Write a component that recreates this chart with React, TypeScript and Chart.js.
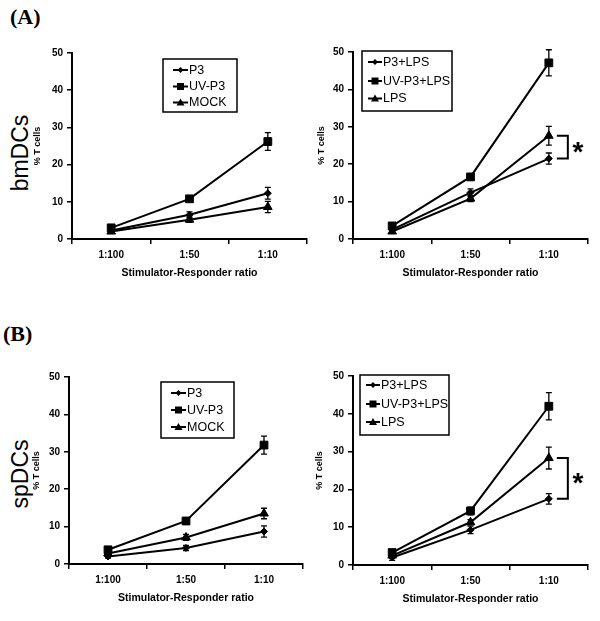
import React, { useEffect, useRef } from 'react';
import { Chart, registerables } from 'chart.js';
Chart.register(...registerables);

// ---------- data ----------
const categories = ['1:100', '1:50', '1:10'];
const yMin = 0;
const yMax = 50;
const yStep = 10;
const yTitle = '% T cells';
const xTitle = 'Stimulator-Responder ratio';

const plainNames = ['P3', 'UV-P3', 'MOCK'];
const lpsNames = ['P3+LPS', 'UV-P3+LPS', 'LPS'];
const markerStyles = ['rectRot', 'rect', 'triangle'];

// (A) bmDCs, unstimulated
const bmP3 = [2.3, 6.5, 12.3];
const bmP3Err = [0.5, 0.8, 1.6];
const bmUV = [3.0, 10.8, 26.2];
const bmUVErr = [0.5, 0.7, 2.4];
const bmMock = [2.0, 5.2, 8.6];
const bmMockErr = [0.4, 0.7, 1.5];

// (A) bmDCs, +LPS
const bmP3Lps = [2.5, 12.4, 21.5];
const bmP3LpsErr = [1.0, 1.0, 1.5];
const bmUVLps = [3.5, 16.6, 47.1];
const bmUVLpsErr = [0.5, 0.8, 3.5];
const bmLps = [2.0, 10.8, 27.6];
const bmLpsErr = [0.5, 0.8, 2.5];

// (B) spDCs, unstimulated
const spP3 = [2.0, 4.3, 8.7];
const spP3Err = [0.4, 0.7, 1.5];
const spUV = [3.8, 11.5, 31.8];
const spUVErr = [0.5, 0.7, 2.4];
const spMock = [2.8, 7.1, 13.5];
const spMockErr = [0.4, 0.8, 1.4];

// (B) spDCs, +LPS
const spP3Lps = [2.0, 9.3, 17.5];
const spP3LpsErr = [0.8, 1.0, 1.4];
const spUVLps = [3.3, 14.3, 42.0];
const spUVLpsErr = [0.5, 1.0, 3.6];
const spLps = [2.5, 11.3, 28.3];
const spLpsErr = [0.5, 0.7, 2.9];

// ---------- layout ----------
const FONT = '"Liberation Sans", Arial, Helvetica, sans-serif';
const Y_BOX = 50;
const X_BOX = 45;
const PAD_T = 10;
const PAD_R = 12;

type Panel = {
  names: string[];
  values: number[][];
  errors: number[][];
  area: { l: number; t: number; r: number; b: number };
  titleX: number;
  legend: { dx: number; dy: number; w: number; h: number; rows: number[]; l1: number; l2: number; tx: number };
  bracket: null | { a: number; b: number; cat: number };
};

const panels: Panel[] = [
  {
    names: plainNames,
    values: [bmP3, bmUV, bmMock],
    errors: [bmP3Err, bmUVErr, bmMockErr],
    area: { l: 72, t: 53, r: 307, b: 239 },
    titleX: 38,
    legend: { dx: 91, dy: 6, w: 74, h: 53, rows: [11, 27.5, 43.5], l1: 10, l2: 25, tx: 26 },
    bracket: null,
  },
  {
    names: lpsNames,
    values: [bmP3Lps, bmUVLps, bmLps],
    errors: [bmP3LpsErr, bmUVLpsErr, bmLpsErr],
    area: { l: 353, t: 52, r: 588, b: 239 },
    titleX: 322,
    legend: { dx: 9, dy: -1, w: 90, h: 60, rows: [11, 30, 47.5], l1: 6, l2: 20, tx: 21 },
    bracket: { a: 2, b: 0, cat: 2 },
  },
  {
    names: plainNames,
    values: [spP3, spUV, spMock],
    errors: [spP3Err, spUVErr, spMockErr],
    area: { l: 69, t: 377, r: 303, b: 564 },
    titleX: 37,
    legend: { dx: 92, dy: 5, w: 73, h: 56, rows: [11, 28, 45], l1: 10, l2: 25, tx: 26 },
    bracket: null,
  },
  {
    names: lpsNames,
    values: [spP3Lps, spUVLps, spLps],
    errors: [spP3LpsErr, spUVLpsErr, spLpsErr],
    area: { l: 353, t: 376, r: 588, b: 565 },
    titleX: 320,
    legend: { dx: 7, dy: -1, w: 89, h: 60, rows: [10, 29, 47], l1: 6, l2: 20, tx: 21 },
    bracket: { a: 2, b: 0, cat: 2 },
  },
];

function drawMarker(ctx: CanvasRenderingContext2D, style: string, x: number, y: number) {
  ctx.beginPath();
  if (style === 'rect') {
    ctx.rect(x - 3.5, y - 3.5, 7, 7);
  } else if (style === 'rectRot') {
    ctx.moveTo(x, y - 3);
    ctx.lineTo(x + 3, y);
    ctx.lineTo(x, y + 3);
    ctx.lineTo(x - 3, y);
    ctx.closePath();
  } else {
    ctx.moveTo(x, y - 4);
    ctx.lineTo(x + 4, y + 3);
    ctx.lineTo(x - 4, y + 3);
    ctx.closePath();
  }
  ctx.fill();
}

function PanelChart({ p }: { p: Panel }) {
  const ref = useRef<HTMLCanvasElement>(null);
  const left = p.area.l - Y_BOX;
  const top = p.area.t - PAD_T;
  const width = p.area.r - p.area.l + Y_BOX + PAD_R;
  const height = p.area.b - p.area.t + PAD_T + X_BOX;

  useEffect(() => {
    if (!ref.current) return;

    const errorBars = {
      id: 'errorBars',
      afterDatasetsDraw(chart: any) {
        const ctx = chart.ctx;
        const ys = chart.scales.y;
        ctx.save();
        ctx.strokeStyle = '#000';
        ctx.lineWidth = 1.3;
        p.values.forEach((vals, di) => {
          const meta = chart.getDatasetMeta(di);
          vals.forEach((v, j) => {
            const e = p.errors[di][j];
            const x = meta.data[j].x;
            const y1 = ys.getPixelForValue(v + e);
            const y2 = ys.getPixelForValue(v - e);
            ctx.beginPath();
            ctx.moveTo(x, y1);
            ctx.lineTo(x, y2);
            ctx.moveTo(x - 3, y1);
            ctx.lineTo(x + 3, y1);
            ctx.moveTo(x - 3, y2);
            ctx.lineTo(x + 3, y2);
            ctx.stroke();
          });
        });
        ctx.restore();
      },
    };

    const boxLegend = {
      id: 'boxLegend',
      afterDraw(chart: any) {
        const ctx = chart.ctx;
        const a = chart.chartArea;
        const L = p.legend;
        const bx = a.left + L.dx;
        const by = a.top + L.dy;
        ctx.save();
        ctx.fillStyle = '#fff';
        ctx.fillRect(bx, by, L.w, L.h);
        ctx.strokeStyle = '#000';
        ctx.lineWidth = 1.5;
        ctx.strokeRect(bx, by, L.w, L.h);
        ctx.fillStyle = '#000';
        ctx.font = `12.5px ${FONT}`;
        ctx.textBaseline = 'middle';
        ctx.textAlign = 'left';
        p.names.forEach((n, i) => {
          const y = by + L.rows[i];
          ctx.lineWidth = 2;
          ctx.beginPath();
          ctx.moveTo(bx + L.l1, y);
          ctx.lineTo(bx + L.l2, y);
          ctx.stroke();
          drawMarker(ctx, markerStyles[i], (bx + L.l1 + bx + L.l2) / 2, y);
          ctx.fillText(n, bx + L.tx, y + 0.5);
        });
        ctx.restore();
      },
    };

    const bracketPlugin = {
      id: 'bracket',
      afterDraw(chart: any) {
        if (!p.bracket) return;
        const ctx = chart.ctx;
        const ys = chart.scales.y;
        const xs = chart.scales.x;
        const br = p.bracket;
        const x0 = xs.getPixelForValue(br.cat);
        const ya = ys.getPixelForValue(p.values[br.a][br.cat]);
        const yb = ys.getPixelForValue(p.values[br.b][br.cat]);
        ctx.save();
        ctx.strokeStyle = '#000';
        ctx.lineWidth = 2;
        ctx.beginPath();
        ctx.moveTo(x0 + 8, ya);
        ctx.lineTo(x0 + 19, ya);
        ctx.lineTo(x0 + 19, yb);
        ctx.lineTo(x0 + 8, yb);
        ctx.stroke();
        ctx.fillStyle = '#000';
        ctx.font = `bold 28px ${FONT}`;
        ctx.textAlign = 'center';
        ctx.textBaseline = 'middle';
        ctx.fillText('*', x0 + 29, (ya + yb) / 2 + 6);
        ctx.restore();
      },
    };

    const chart = new Chart(ref.current, {
      type: 'line',
      data: {
        labels: categories,
        datasets: p.names.map((n, i) => ({
          label: n,
          data: p.values[i],
          borderColor: '#000',
          backgroundColor: '#000',
          borderWidth: 2,
          pointStyle: markerStyles[i] as any,
          pointRadius: i === 0 ? 3.5 : i === 1 ? 5.5 : 5,
          pointBackgroundColor: '#000',
          pointBorderColor: '#000',
          pointBorderWidth: 1,
          tension: 0,
          fill: false,
        })),
      },
      options: {
        animation: false,
        responsive: false,
        devicePixelRatio: 1,
        layout: { padding: { top: PAD_T, right: PAD_R, left: 0, bottom: 0 } },
        plugins: { legend: { display: false }, tooltip: { enabled: false } },
        scales: {
          x: {
            type: 'category',
            offset: true,
            afterFit: (s: any) => { s.height = X_BOX; },
            grid: { offset: true, drawOnChartArea: false, drawTicks: true, tickLength: 5, color: '#000', lineWidth: 1.5 },
            border: { display: true, color: '#000', width: 2 },
            ticks: { color: '#000', font: { family: FONT, size: 10, weight: 'bold' }, padding: 5, maxRotation: 0 },
            title: {
              display: true,
              text: xTitle,
              color: '#000',
              font: { family: FONT, size: 10.5, weight: 'bold' },
              padding: { top: 0, bottom: 4.4 },
            },
          },
          y: {
            min: yMin,
            max: yMax,
            afterFit: (s: any) => { s.width = Y_BOX; },
            grid: { drawOnChartArea: false, drawTicks: true, tickLength: 5, color: '#000', lineWidth: 1.5 },
            border: { display: true, color: '#000', width: 2 },
            ticks: { stepSize: yStep, color: '#000', font: { family: FONT, size: 10, weight: 'bold' }, padding: 4 },
            title: {
              display: true,
              text: yTitle,
              color: '#000',
              font: { family: FONT, size: 9, weight: 'bold' },
              padding: { top: p.titleX - left - 5.4, bottom: 0 },
            },
          },
        },
      },
      plugins: [errorBars, bracketPlugin, boxLegend],
    } as any);
    return () => chart.destroy();
  }, []);

  return (
    <canvas
      ref={ref}
      width={width}
      height={height}
      style={{ position: 'absolute', left, top, width, height }}
    />
  );
}

const serifLabel: React.CSSProperties = {
  position: 'absolute',
  fontFamily: '"Liberation Serif", "Times New Roman", serif',
  fontWeight: 'bold',
  fontSize: 22,
  lineHeight: 1,
  color: '#000',
};

const sideLabel: React.CSSProperties = {
  position: 'absolute',
  fontFamily: FONT,
  fontSize: 23,
  lineHeight: 1,
  color: '#000',
  whiteSpace: 'nowrap',
  transform: 'translate(-50%, -50%) rotate(-90deg)',
};

export default function App() {
  return (
    <div style={{ position: 'absolute', left: 0, top: 0, width: 600, height: 621, background: '#fff', overflow: 'hidden' }}>
      <div style={{ ...serifLabel, left: 10, top: 6 }}>(A)</div>
      <div style={{ ...serifLabel, left: 3, top: 323 }}>(B)</div>
      <div style={{ ...sideLabel, left: 20, top: 153 }}>bmDCs</div>
      <div style={{ ...sideLabel, left: 20, top: 474 }}>spDCs</div>
      {panels.map((p, i) => (
        <PanelChart key={i} p={p} />
      ))}
    </div>
  );
}
